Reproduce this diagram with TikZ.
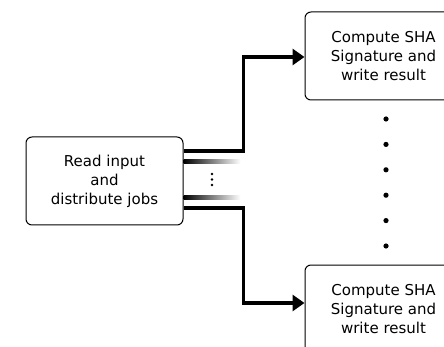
\documentclass[tikz,border=0pt]{standalone}
\usepackage{fontspec}
\setmainfont{DejaVu Sans}
\usetikzlibrary{arrows.meta, calc}
\newcommand{\shajob}{Compute SHA\\Signature and\\write result}

\begin{document}
\begin{tikzpicture}[x=1pt, y=-1pt,
  job/.style={draw, rounded corners=6pt, line width=1pt, align=center,
              minimum width=157pt, minimum height=88pt, inner sep=0pt,
              font=\fontsize{15}{19}\selectfont},
  flow/.style={line width=3.2pt, -{Triangle[length=12pt, width=16pt]}},
  fade/.style={left color=black, right color=white}]
\useasboundingbox (0,0) rectangle (444,347);
\clip (0,0) rectangle (444,347);

\node[job] (r)  at (104.5,181) {Read input\\and\\distribute jobs};
\node[job] (s1) at (383.5,56)  {\shajob};
\node[job] (s2) at (383.5,309) {\shajob};

\draw[flow] ([yshift=30pt]r.east) -- ++(60,0) |- ([yshift=-1pt]s1.west);
\draw[flow] ([yshift=-27pt]r.east) -- ++(60,0) |- ([yshift=6pt]s2.west);

% jobs in between
\shade[fade] ([yshift=21pt]r.east) rectangle ++(57,4);
\shade[fade] ([yshift=-15pt]r.east) rectangle ++(57,4);
\foreach \y in {174,179.5,185}
  \fill (212,\y) circle (1.3);

% more workers
\foreach \y in {119,144.4,169.8,195.2,220.6,246}
  \fill (386,\y) circle (2.6);
\end{tikzpicture}
\end{document}
